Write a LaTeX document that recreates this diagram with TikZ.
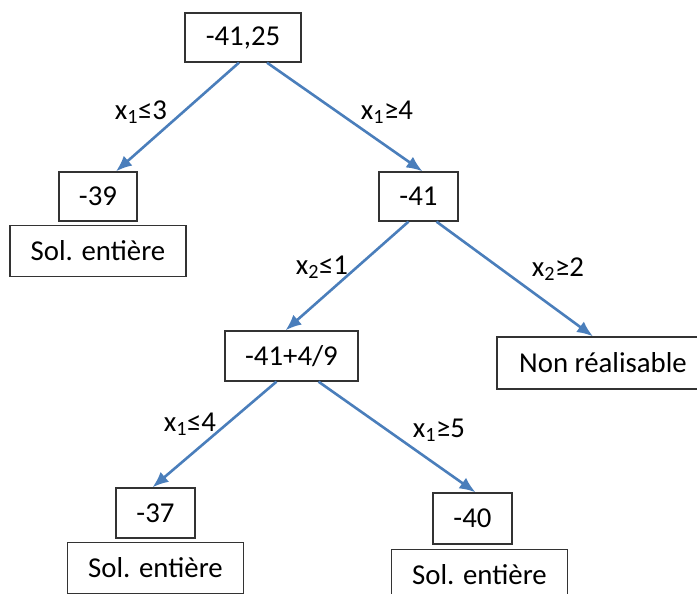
\documentclass[tikz,border=0pt]{standalone}
\usepackage{fontspec}
\setmainfont{Carlito}
\usetikzlibrary{arrows.meta}
\usetikzlibrary{positioning}
\definecolor{branchblue}{RGB}{74,126,187}

\begin{document}
\begin{tikzpicture}[x=1pt, y=-1pt, >={Latex[length=16pt,width=13pt]}, font=\fontsize{28.8}{34}\selectfont]
    \tikzstyle{box} = [draw=black!80, line width=1.3pt, rectangle, inner sep=0pt, minimum height=49pt, align=center];
    \tikzstyle{solbox} = [box, minimum width=176pt, minimum height=51pt];
    \tikzstyle{branch} = [->, draw=branchblue, line width=2.6pt];
    \useasboundingbox (0,0) rectangle (697,594);
    % noeuds de l'arbre
    \node [box, minimum width=116pt] (root) at (243,37.5) {-41,25};
    \node [box, minimum width=78pt] (n39) at (98,196.5) {-39};
    \node [solbox, below=3pt of n39] (s39) {Sol. entière};
    \node [box, minimum width=79pt] (n41) at (418.5,196.5) {-41};
    \node [box, minimum width=133pt, minimum height=50pt] (n449) at (291.5,356) {-41+4/9};
    \node [box, minimum width=212pt, minimum height=52pt] (nr) at (603,363) {Non réalisable};
    \node [box, minimum width=79pt, minimum height=50pt] (n37) at (155.5,513) {-37};
    \node [solbox, below=3pt of n37] (s37) {Sol. entière};
    \node [box, minimum width=79pt, minimum height=51pt] (n40) at (472.5,518.5) {-40};
    \node [solbox, below=4pt of n40, xshift=7pt] (s40) {Sol. entière};
    % branches
    \draw [branch] ([xshift=-4pt]root.south) -- ([xshift=18pt]n39.north);
    \draw [branch] ([xshift=24pt]root.south) -- ([xshift=4pt]n41.north);
    \draw [branch] ([xshift=-10pt]n41.south) -- ([xshift=-6pt]n449.north);
    \draw [branch] ([xshift=18pt]n41.south) -- ([xshift=-10pt]nr.north);
    \draw [branch] ([xshift=-15pt]n449.south) -- ([xshift=-3pt]n37.north);
    \draw [branch] ([xshift=27pt]n449.south) -- ([xshift=3pt]n40.north);
    % contraintes
    \node (c1) at (141,112) {x\textsubscript{1}≤3};
    \node (c2) at (387,112) {x\textsubscript{1}≥4};
    \node (c3) at (322,267) {x\textsubscript{2}≤1};
    \node (c4) at (558,269) {x\textsubscript{2}≥2};
    \node (c5) at (190,424) {x\textsubscript{1}≤4};
    \node (c6) at (439,430) {x\textsubscript{1}≥5};
\end{tikzpicture}
\end{document}
